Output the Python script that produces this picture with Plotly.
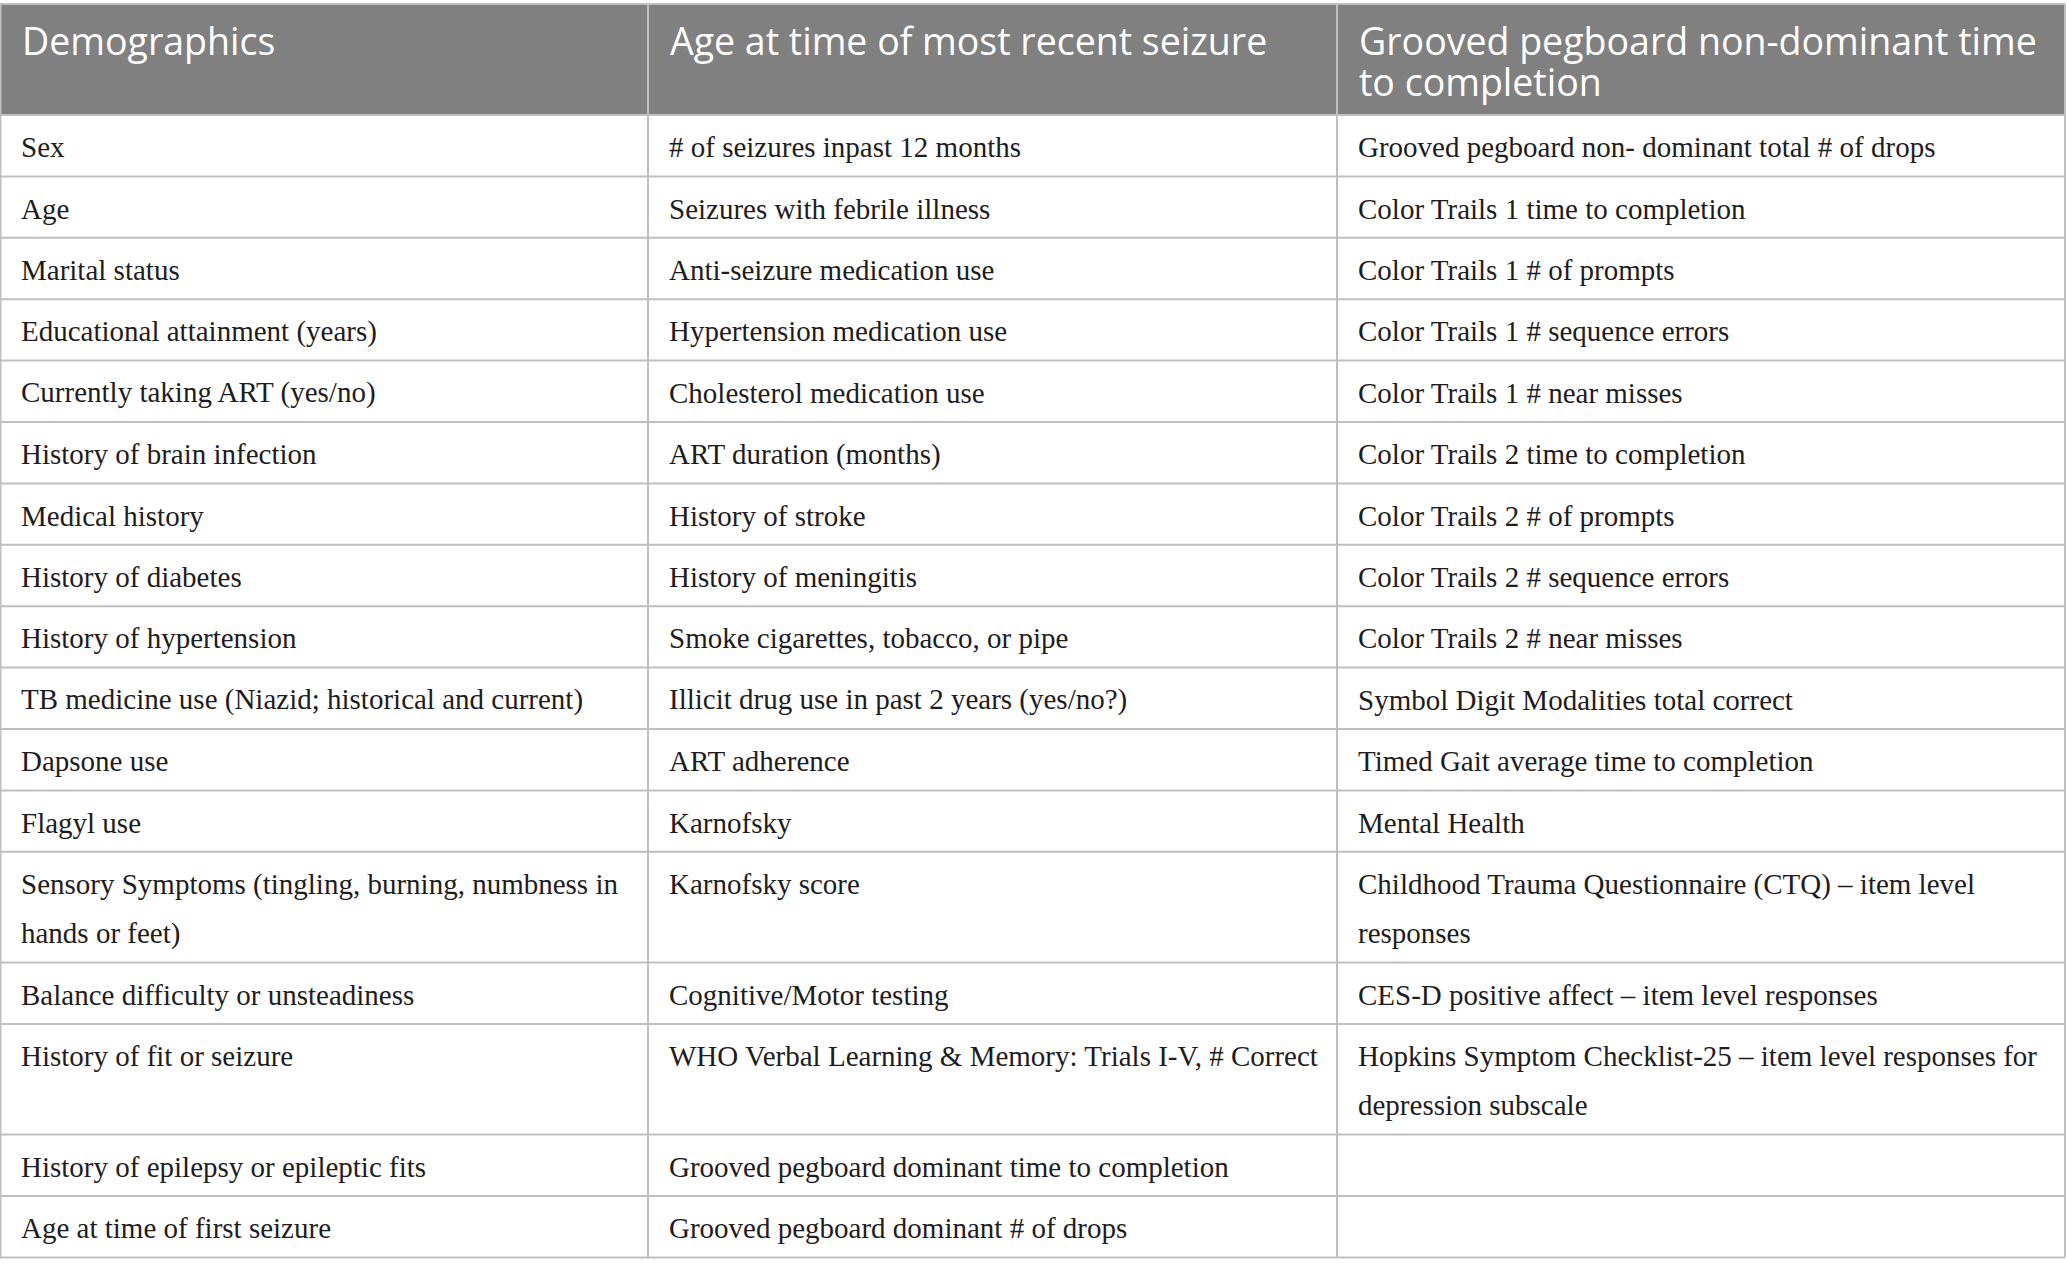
import plotly.graph_objects as go

headers = [
    "Demographics",
    "Age at time of most recent seizure",
    "Grooved pegboard non-dominant time\nto completion",
]

col_demographics = [
    "Sex",
    "Age",
    "Marital status",
    "Educational attainment (years)",
    "Currently taking ART (yes/no)",
    "History of brain infection",
    "Medical history",
    "History of diabetes",
    "History of hypertension",
    "TB medicine use (Niazid; historical and current)",
    "Dapsone use",
    "Flagyl use",
    "Sensory Symptoms (tingling, burning, numbness in\nhands or feet)",
    "Balance difficulty or unsteadiness",
    "History of fit or seizure",
    "History of epilepsy or epileptic fits",
    "Age at time of first seizure",
]

col_seizure = [
    "# of seizures inpast 12 months",
    "Seizures with febrile illness",
    "Anti-seizure medication use",
    "Hypertension medication use",
    "Cholesterol medication use",
    "ART duration (months)",
    "History of stroke",
    "History of meningitis",
    "Smoke cigarettes, tobacco, or pipe",
    "Illicit drug use in past 2 years (yes/no?)",
    "ART adherence",
    "Karnofsky",
    "Karnofsky score",
    "Cognitive/Motor testing",
    "WHO Verbal Learning & Memory: Trials I-V, # Correct",
    "Grooved pegboard dominant time to completion",
    "Grooved pegboard dominant # of drops",
]

col_pegboard = [
    "Grooved pegboard non- dominant total # of drops",
    "Color Trails 1 time to completion",
    "Color Trails 1 # of prompts",
    "Color Trails 1 # sequence errors",
    "Color Trails 1 # near misses",
    "Color Trails 2 time to completion",
    "Color Trails 2 # of prompts",
    "Color Trails 2 # sequence errors",
    "Color Trails 2 # near misses",
    "Symbol Digit Modalities total correct",
    "Timed Gait average time to completion",
    "Mental Health",
    "Childhood Trauma Questionnaire (CTQ) \u2013 item level\nresponses",
    "CES-D positive affect \u2013 item level responses",
    "Hopkins Symptom Checklist-25 \u2013 item level responses for\ndepression subscale",
    "",
    "",
]

columns = [col_demographics, col_seizure, col_pegboard]

# ---- layout constants (pixels) ----
W, H = 2067, 1276
col_widths = [648, 689, 729]
TABLE_TOP = 4
HEADER_H = 111
ROW_H = 61.4
LINE_STEP = 49.3
PAD_X = 18.5
HEAD_PAD_X = 21.5
BODY_FIRST = 32.2          # bbox middle of first body line below row top
HEADER_TOP = 10.6          # bbox top of header text below header top
HEADER_SIZE = 37.5
HEADER_STEP = 41           # baseline-to-baseline in header
BODY_FONT = dict(family="Liberation Serif", size=29, color="#1f1c1d")
GRID = "#bfbfbf"
HEAD_FILL = "#7f807f"

col_left = [sum(col_widths[:i]) for i in range(len(col_widths))]
table_right = sum(col_widths) - 1

n_rows = len(col_demographics)
row_lines = [max(len(col[r].split("\n")) for col in columns) for r in range(n_rows)]
row_tops = []
y = TABLE_TOP + HEADER_H
for n in row_lines:
    row_tops.append(y)
    y += ROW_H + (n - 1) * LINE_STEP
table_bottom = y

fig = go.Figure()

shapes = [
    dict(type="rect", xref="x", yref="y", x0=0, x1=table_right,
         y0=TABLE_TOP, y1=TABLE_TOP + HEADER_H,
         fillcolor=HEAD_FILL, line=dict(width=0), layer="below"),
]
# horizontal rules
for yy in [TABLE_TOP, TABLE_TOP + HEADER_H] + row_tops[1:] + [table_bottom]:
    shapes.append(dict(type="line", xref="x", yref="y", x0=0, x1=table_right,
                       y0=yy, y1=yy, line=dict(color=GRID, width=2)))
# vertical rules
for xx in col_left + [table_right]:
    shapes.append(dict(type="line", xref="x", yref="y", x0=max(xx, 0.5), x1=max(xx, 0.5),
                       y0=TABLE_TOP, y1=table_bottom, line=dict(color=GRID, width=2)))

annotations = []
# header: one text per cell; the outer font size sets the line pitch,
# the inner span sets the glyph size
for c, text in enumerate(headers):
    inner = "<br>".join(
        '<span style="font-size:%gpx">%s</span>' % (HEADER_SIZE, line)
        for line in text.split("\n"))
    annotations.append(dict(
        x=col_left[c] + HEAD_PAD_X, y=TABLE_TOP + HEADER_TOP,
        xref="x", yref="y", text=inner, showarrow=False,
        xanchor="left", yanchor="top", align="left",
        borderpad=0, borderwidth=0,
        font=dict(family="Open Sans", size=HEADER_STEP / 1.3, color="#ffffff")))

for c, col in enumerate(columns):
    for r, text in enumerate(col):
        if not text:
            continue
        for k, line in enumerate(text.split("\n")):
            annotations.append(dict(
                x=col_left[c] + PAD_X, y=row_tops[r] + BODY_FIRST + k * LINE_STEP,
                xref="x", yref="y", text=line, showarrow=False,
                xanchor="left", yanchor="middle", font=BODY_FONT))

fig.update_layout(
    width=W,
    height=H,
    margin=dict(l=0, r=0, t=0, b=0),
    paper_bgcolor="white",
    plot_bgcolor="white",
    xaxis=dict(range=[0, W], visible=False, fixedrange=True),
    yaxis=dict(range=[H, 0], visible=False, fixedrange=True),
    shapes=shapes,
    annotations=annotations,
    showlegend=False,
)

fig.write_html(
    "out.html",
    config={"displayModeBar": False},
    post_script="document.body.style.margin='0';document.body.style.overflow='hidden';",
)
